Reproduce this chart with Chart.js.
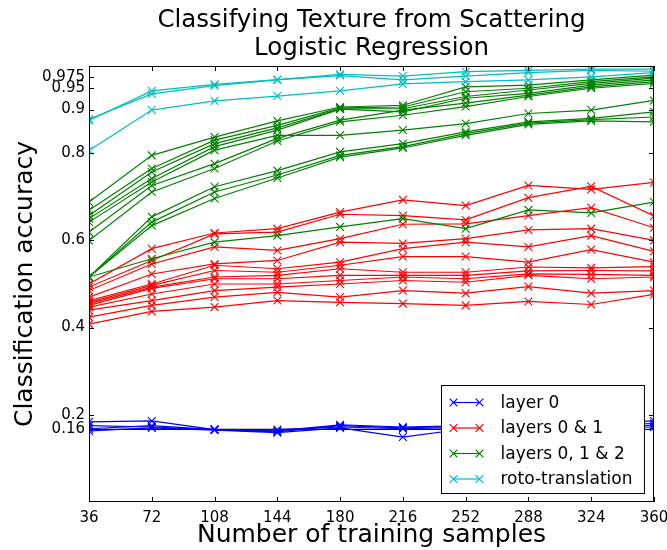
<!DOCTYPE html>
<html>
<head>
<meta charset="utf-8">
<script src="https://cdn.jsdelivr.net/npm/chart.js@4.4.0/dist/chart.umd.min.js"></script>
<style>
  body { margin: 0; background: #fff; }
  canvas { display: block; }
</style>
</head>
<body>
<canvas id="chart" width="667" height="550"></canvas>
<script>
// training set sizes
const xLabels = ['36', '72', '108', '144', '180', '216', '252', '288', '324', '360'];

const yTickValues = [1 / 6, 0.2, 0.4, 0.6, 0.8, 0.9, 0.95, 0.975];
const yTickLabels = ['0.16', '0.2', '0.4', '0.6', '0.8', '0.9', '0.95', '0.975'];

const titleLines = ['Classifying Texture from Scattering', 'Logistic Regression'];

// chance level (1/6)
const chanceLine = [0.1667, 0.1667, 0.1667, 0.1667, 0.1667, 0.1667, 0.1667, 0.1667, 0.1667, 0.1667];

const layer0 = [
	[0.184, 0.186, 0.166, 0.163, 0.177, 0.172, 0.175, 0.178, 0.180, 0.186],
	[0.175, 0.172, 0.166, 0.161, 0.175, 0.170, 0.174, 0.175, 0.177, 0.180],
	[0.168, 0.175, 0.166, 0.166, 0.172, 0.168, 0.171, 0.172, 0.174, 0.176],
	[0.163, 0.170, 0.165, 0.159, 0.170, 0.149, 0.168, 0.170, 0.172, 0.172]
];

const layers01 = [
	[0.500, 0.581, 0.617, 0.627, 0.665, 0.693, 0.680, 0.726, 0.717, 0.733],
	[0.493, 0.554, 0.615, 0.619, 0.660, 0.657, 0.647, 0.698, 0.724, 0.656],
	[0.485, 0.546, 0.585, 0.577, 0.604, 0.637, 0.638, 0.657, 0.675, 0.629],
	[0.470, 0.523, 0.546, 0.554, 0.596, 0.593, 0.604, 0.624, 0.627, 0.600],
	[0.462, 0.500, 0.543, 0.535, 0.550, 0.581, 0.596, 0.585, 0.611, 0.575],
	[0.458, 0.497, 0.531, 0.527, 0.543, 0.563, 0.563, 0.550, 0.579, 0.550],
	[0.455, 0.493, 0.516, 0.520, 0.535, 0.527, 0.527, 0.539, 0.537, 0.540],
	[0.451, 0.490, 0.512, 0.512, 0.520, 0.520, 0.520, 0.530, 0.531, 0.530],
	[0.447, 0.477, 0.500, 0.500, 0.508, 0.516, 0.512, 0.523, 0.522, 0.520],
	[0.440, 0.462, 0.485, 0.493, 0.500, 0.508, 0.504, 0.520, 0.512, 0.516],
	[0.424, 0.451, 0.470, 0.481, 0.470, 0.485, 0.479, 0.494, 0.479, 0.485],
	[0.408, 0.437, 0.447, 0.462, 0.458, 0.455, 0.451, 0.460, 0.453, 0.476]
];

const layers012 = [
	[0.688, 0.795, 0.837, 0.874, 0.906, 0.910, 0.952, 0.956, 0.968, 0.979],
	[0.669, 0.765, 0.830, 0.864, 0.904, 0.906, 0.941, 0.949, 0.964, 0.975],
	[0.657, 0.757, 0.822, 0.858, 0.902, 0.902, 0.930, 0.945, 0.960, 0.972],
	[0.650, 0.742, 0.815, 0.853, 0.901, 0.895, 0.926, 0.937, 0.956, 0.968],
	[0.642, 0.734, 0.807, 0.841, 0.841, 0.853, 0.868, 0.891, 0.899, 0.921],
	[0.619, 0.726, 0.776, 0.834, 0.876, 0.899, 0.915, 0.933, 0.952, 0.964],
	[0.600, 0.711, 0.765, 0.828, 0.872, 0.887, 0.907, 0.930, 0.949, 0.960],
	[0.516, 0.654, 0.723, 0.760, 0.803, 0.822, 0.849, 0.872, 0.880, 0.895],
	[0.516, 0.642, 0.711, 0.750, 0.795, 0.815, 0.845, 0.869, 0.877, 0.883],
	[0.516, 0.634, 0.696, 0.743, 0.791, 0.812, 0.841, 0.866, 0.874, 0.872],
	[0.516, 0.558, 0.596, 0.611, 0.631, 0.650, 0.627, 0.670, 0.663, 0.688]
];

const rotoTranslation = [
	[0.875, 0.943, 0.958, 0.969, 0.981, 0.977, 0.987, 0.990, 0.993, 0.993],
	[0.878, 0.936, 0.955, 0.968, 0.978, 0.968, 0.977, 0.985, 0.990, 0.988],
	[0.806, 0.899, 0.920, 0.931, 0.943, 0.959, 0.964, 0.968, 0.975, 0.985]
];

const groupNames = ['layer 0', 'layers 0 & 1', 'layers 0, 1 & 2', 'roto-translation'];
const groupColors = ['#0000ff', '#ff0000', '#008000', '#00bfbf'];
const groupSeries = [layer0, layers01, layers012, rotoTranslation];

const FONT = 'DejaVu Sans';

let datasets = [];
groupSeries.forEach((group, g) => {
	group.forEach((values) => {
		datasets.push({
			label: groupNames[g],
			data: values,
			borderColor: groupColors[g],
			backgroundColor: groupColors[g],
			borderWidth: 1.2,
			pointStyle: 'crossRot',
			pointRadius: 5.5,
			pointBorderWidth: 1.1,
			pointBorderColor: groupColors[g],
			fill: false,
			tension: 0,
			clip: 0,
			order: 3 - g
		});
	});
});
datasets.push({
	label: 'chance',
	data: chanceLine,
	borderColor: '#000000',
	borderWidth: 1.2,
	pointRadius: 0,
	fill: false,
	clip: 0,
	order: 5
});

function drawCross(ctx, x, y, r) {
	ctx.beginPath();
	ctx.moveTo(x - r, y - r);
	ctx.lineTo(x + r, y + r);
	ctx.moveTo(x - r, y + r);
	ctx.lineTo(x + r, y - r);
	ctx.stroke();
}

// matplotlib style box, inward ticks, title and legend
const framePlugin = {
	id: 'frame',
	afterDraw(chart) {
		const ctx = chart.ctx;
		const area = chart.chartArea;
		const xs = chart.scales.x;
		const ys = chart.scales.y;
		ctx.save();
		ctx.strokeStyle = '#000';
		ctx.lineWidth = 1;
		ctx.strokeRect(area.left + 0.5, area.top + 0.5, area.right - area.left - 1, area.bottom - area.top - 1);

		const tick = 5;
		ctx.beginPath();
		xLabels.forEach((lab, i) => {
			const px = Math.round(xs.getPixelForTick(i)) + 0.5;
			ctx.moveTo(px, area.bottom);
			ctx.lineTo(px, area.bottom - tick);
			ctx.moveTo(px, area.top);
			ctx.lineTo(px, area.top + tick);
		});
		yTickValues.forEach((v) => {
			const py = Math.round(ys.getPixelForValue(v)) + 0.5;
			ctx.moveTo(area.left, py);
			ctx.lineTo(area.left + tick, py);
			ctx.moveTo(area.right, py);
			ctx.lineTo(area.right - tick, py);
		});
		ctx.stroke();

		// title
		ctx.fillStyle = '#000';
		ctx.font = '24.5px "' + FONT + '"';
		ctx.textAlign = 'center';
		ctx.textBaseline = 'middle';
		const cx = (area.left + area.right) / 2;
		titleLines.forEach((line, i) => {
			ctx.fillText(line, cx, 21 + i * 28);
		});

		// legend
		ctx.font = '17px "' + FONT + '"';
		ctx.textAlign = 'left';
		let textW = 0;
		groupNames.forEach((n) => { textW = Math.max(textW, ctx.measureText(n).width); });
		const rowH = 25.5;
		const boxW = 59 + textW + 12;
		const boxH = 108;
		const boxR = area.right - 10;
		const boxB = area.bottom - 9;
		const boxL = Math.round(boxR - boxW) + 0.5;
		const boxT = Math.round(boxB - boxH) + 0.5;
		ctx.fillStyle = '#fff';
		ctx.fillRect(boxL, boxT, boxW, boxH);
		ctx.strokeStyle = '#000';
		ctx.strokeRect(boxL, boxT, boxW, boxH);
		groupNames.forEach((n, i) => {
			const ry = boxT + 17 + i * rowH;
			ctx.strokeStyle = groupColors[i];
			ctx.lineWidth = 1.2;
			ctx.beginPath();
			ctx.moveTo(boxL + 12, ry);
			ctx.lineTo(boxL + 38, ry);
			ctx.stroke();
			drawCross(ctx, boxL + 12, ry, 3.9);
			drawCross(ctx, boxL + 38, ry, 3.9);
			ctx.fillStyle = '#000';
			ctx.fillText(n, boxL + 59, ry + 1);
		});
		ctx.restore();
	}
};

const ctx = document.getElementById('chart').getContext('2d');
const chart = new Chart(ctx, {
	type: 'line',
	data: {
		labels: xLabels,
		datasets: datasets
	},
	options: {
		responsive: false,
		animation: false,
		devicePixelRatio: 1,
		layout: {
			padding: { top: 66, right: 13, left: 0, bottom: 0 }
		},
		plugins: {
			legend: { display: false },
			title: { display: false },
			tooltip: { enabled: false }
		},
		scales: {
			x: {
				type: 'category',
				offset: false,
				grid: { display: false, drawTicks: false },
				border: { display: false },
				ticks: {
					color: '#000',
					font: { family: FONT, size: 15 },
					padding: 7,
					maxRotation: 0,
					autoSkip: false
				},
				title: {
					display: true,
					text: 'Number of training samples',
					color: '#000',
					font: { family: FONT, size: 25 },
					padding: { top: 0, bottom: 0 }
				},
				afterFit: (scale) => {
					scale.height = 48;
					// let the last tick label hang over the edge, like the original
					scale.paddingLeft = 0;
					scale.paddingRight = 0;
				}
			},
			y: {
				min: 0,
				max: 1,
				grid: { display: false, drawTicks: false },
				border: { display: false },
				afterBuildTicks: (scale) => {
					scale.ticks = yTickValues.map((v) => ({ value: v }));
				},
				ticks: {
					color: '#000',
					font: { family: FONT, size: 15 },
					padding: 4,
					autoSkip: false,
					callback: (value, index) => yTickLabels[index]
				},
				title: {
					display: true,
					text: 'Classification accuracy',
					color: '#000',
					font: { family: FONT, size: 25 },
					padding: { top: 10, bottom: 0 }
				},
				afterFit: (scale) => {
					scale.width = 89;
					scale.paddingTop = 0;
					scale.paddingBottom = 0;
				}
			}
		}
	},
	plugins: [framePlugin]
});
</script>
</body>
</html>
